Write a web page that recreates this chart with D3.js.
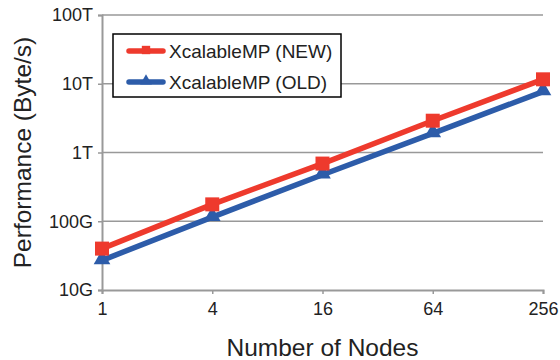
<!DOCTYPE html>
<head>
  <meta charset="utf-8">
  <style>
    body { margin: 0; background: #fff; }
    text { font-family: "Liberation Sans", Arial, sans-serif; fill: #222; }
  </style>
</head>
<body>
  <svg width="560" height="360"></svg>
  <script src="https://d3js.org/d3.v7.min.js"></script>
  <script>
    // data
    var nodes = [1, 4, 16, 64, 256];
    var perfNew = [40e9, 176e9, 690e9, 2.9e12, 11.6e12];
    var perfOld = [27e9, 115e9, 475e9, 1.9e12, 7.7e12];
    var yTicks = [1e10, 1e11, 1e12, 1e13, 1e14];
    var yTickLabels = ["10G", "100G", "1T", "10T", "100T"];
    var seriesNames = ["XcalableMP (NEW)", "XcalableMP (OLD)"];

    var svg = d3.select("svg"),
        margin = {top: 15, right: 17, bottom: 70, left: 102},
        width = +svg.attr("width") - margin.left - margin.right,
        height = +svg.attr("height") - margin.top - margin.bottom;

    var red = "#ee3a2d", blue = "#2d5ca9", grey = "#999";

    var g = svg.append("g").attr("transform", "translate(" + margin.left + "," + margin.top + ")");

    var x = d3.scaleLog().base(2).domain([1, 256]).range([0, width]);
    var y = d3.scaleLog().domain([1e10, 1e14]).range([height, 0]);

    // gridlines
    g.append("g")
      .selectAll("line")
      .data(yTicks.slice(1))
      .enter().append("line")
        .attr("x1", 0).attr("x2", width)
        .attr("y1", function(d) { return y(d); })
        .attr("y2", function(d) { return y(d); })
        .attr("stroke", grey).attr("stroke-width", 1.5);

    // y axis
    var yAxis = g.append("g")
        .call(d3.axisLeft(y).tickValues(yTicks).tickSize(4).tickPadding(5)
          .tickFormat(function(d, i) { return yTickLabels[i]; }));

    // x axis
    var xAxis = g.append("g")
        .attr("transform", "translate(0," + height + ")")
        .call(d3.axisBottom(x).tickValues(nodes).tickSize(4).tickPadding(8)
          .tickFormat(d3.format("d")));

    [yAxis, xAxis].forEach(function(a) {
      a.select(".domain").attr("stroke", grey).attr("stroke-width", 2);
      a.selectAll(".tick line").attr("stroke", grey).attr("stroke-width", 1.5);
      a.selectAll("text").attr("fill", "#222")
        .attr("font-family", "Liberation Sans, Arial, sans-serif")
        .style("font-size", "18px");
    });

    var line = d3.line()
      .x(function(d, i) { return x(nodes[i]); })
      .y(function(d) { return y(d); });

    var tri = d3.symbol().type(d3.symbolTriangle).size(120);

    // OLD series
    g.append("path").datum(perfOld)
      .attr("d", line).attr("fill", "none").attr("stroke", blue).attr("stroke-width", 5.5);
    g.selectAll(".tri").data(perfOld).enter().append("path")
      .attr("class", "tri")
      .attr("d", tri)
      .attr("transform", function(d, i) { return "translate(" + x(nodes[i]) + "," + (y(d) - 1) + ")"; })
      .attr("fill", blue);

    // NEW series
    g.append("path").datum(perfNew)
      .attr("d", line).attr("fill", "none").attr("stroke", red).attr("stroke-width", 5.5);
    g.selectAll(".sq").data(perfNew).enter().append("rect")
      .attr("class", "sq")
      .attr("x", function(d, i) { return x(nodes[i]) - 7; })
      .attr("y", function(d) { return y(d) - 7; })
      .attr("width", 14).attr("height", 14)
      .attr("fill", red);

    // legend
    var legend = svg.append("g").attr("transform", "translate(113,34)");
    legend.append("rect")
      .attr("width", 228).attr("height", 63)
      .attr("fill", "#fff").attr("stroke", "#000").attr("stroke-width", 1.5);
    var items = legend.selectAll(".item").data(seriesNames).enter().append("g")
      .attr("transform", function(d, i) { return "translate(0," + (17 + i * 31) + ")"; });
    items.append("line")
      .attr("x1", 16).attr("x2", 50)
      .attr("stroke", function(d, i) { return i ? blue : red; })
      .attr("stroke-width", 5.5).attr("stroke-linecap", "round");
    items.append("path")
      .attr("d", function(d, i) {
        return i ? d3.symbol().type(d3.symbolTriangle).size(60)() : d3.symbol().type(d3.symbolSquare).size(70)();
      })
      .attr("transform", "translate(33,-1)")
      .attr("fill", function(d, i) { return i ? blue : red; });
    items.append("text")
      .attr("x", 56).attr("dy", "0.36em")
      .style("font-size", "19px")
      .text(function(d) { return d; });

    // axis titles
    svg.append("text")
      .attr("x", margin.left + width / 2).attr("y", 356)
      .attr("text-anchor", "middle")
      .style("font-size", "24.5px")
      .text("Number of Nodes");
    svg.append("text")
      .attr("transform", "translate(31," + (margin.top + height / 2) + ") rotate(-90)")
      .attr("text-anchor", "middle")
      .style("font-size", "24.5px")
      .text("Performance (Byte/s)");
  </script>
</body>
